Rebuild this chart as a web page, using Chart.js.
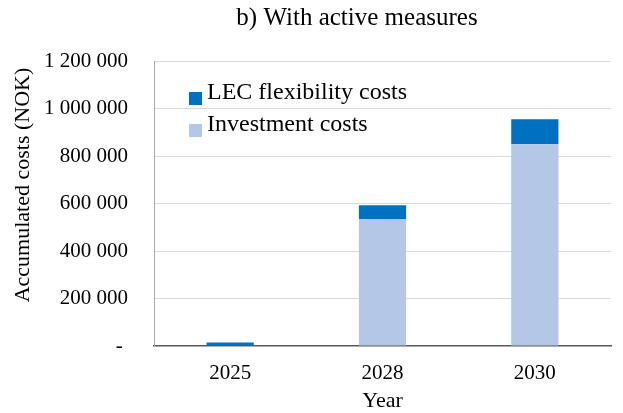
<!DOCTYPE html>
<html lang="en">
<head>
  <meta charset="UTF-8">
  <title>With active measures</title>
  <script src="https://cdn.jsdelivr.net/npm/chart.js"></script>
  <style>
    html, body { margin: 0; padding: 0; background: #fff; }
    #wrap { width: 623px; height: 413px; position: relative; }
  </style>
</head>
<body>
  <div id="wrap"><canvas id="costChart"></canvas></div>
  <script>
    // Data
    const years = ['2025', '2028', '2030'];
    const investmentCosts = [0, 535000, 850000];
    const lecFlexCosts = [15000, 58000, 105000];
    const yMax = 1200000;
    const yStep = 200000;

    const serif = "'Liberation Serif', 'Times New Roman', serif";

    // Title, y-axis title and in-plot legend, drawn by hand like the Excel original
    const overlay = {
      id: 'overlay',
      afterDraw(chart) {
        const ctx = chart.ctx;
        ctx.save();
        ctx.fillStyle = '#000';
        ctx.font = `25px ${serif}`;
        ctx.textAlign = 'center';
        ctx.textBaseline = 'alphabetic';
        ctx.fillText('b) With active measures', 357, 25);

        // y axis title (off-centre in the original)
        ctx.save();
        ctx.translate(29, 185);
        ctx.rotate(-Math.PI / 2);
        ctx.font = `22px ${serif}`;
        ctx.fillText('Accumulated costs (NOK)', 0, 0);
        ctx.restore();

        // legend, top dataset first
        const items = chart.data.datasets.slice().reverse();
        ctx.font = `24px ${serif}`;
        ctx.textAlign = 'left';
        items.forEach((ds, i) => {
          const base = 99 + i * 32;
          ctx.fillStyle = ds.backgroundColor;
          ctx.fillRect(189, base - 7, 13, 13);
          ctx.fillStyle = '#000';
          ctx.fillText(ds.label, 207, base);
        });
        ctx.restore();
      }
    };

    const ctx = document.getElementById('costChart').getContext('2d');
    new Chart(ctx, {
      type: 'bar',
      data: {
        labels: years,
        datasets: [
          {
            label: 'Investment costs',
            data: investmentCosts,
            backgroundColor: '#B4C7E7'
          },
          {
            label: 'LEC flexibility costs',
            data: lecFlexCosts,
            backgroundColor: '#0070C0'
          }
        ]
      },
      options: {
        responsive: true,
        maintainAspectRatio: false,
        animation: false,
        layout: { padding: { top: 61, right: 12, left: 0, bottom: 0 } },
        plugins: {
          legend: { display: false },
          tooltip: { enabled: false }
        },
        datasets: {
          bar: { barPercentage: 1, categoryPercentage: 0.31 }
        },
        scales: {
          x: {
            stacked: true,
            grid: { display: false },
            border: { display: true, color: '#595959', width: 1.5 },
            ticks: { color: '#000', font: { family: serif, size: 21 }, padding: 7 },
            title: { display: true, text: 'Year', color: '#000', font: { family: serif, size: 22 }, padding: { top: 0, bottom: -1 } },
            afterFit: (scale) => { scale.height = 67; }
          },
          y: {
            stacked: true,
            min: 0,
            max: yMax,
            grid: {
              drawTicks: false,
              color: (c) => c.tick && c.tick.value === 0 ? 'rgba(0,0,0,0)' : '#d9d9d9'
            },
            border: { display: true, color: '#a6a6a6', width: 1 },
            ticks: {
              stepSize: yStep,
              padding: 26,
              color: '#000',
              font: { family: serif, size: 21 },
              callback: (v) => v === 0 ? '- ' : v.toLocaleString('en-US').replace(/,/g, ' ')
            },
            afterFit: (scale) => { scale.width = 154; }
          }
        }
      },
      plugins: [overlay]
    });
  </script>
</body>
</html>
